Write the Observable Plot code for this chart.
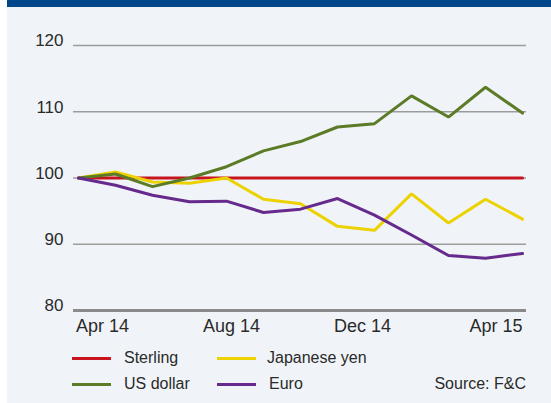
<!DOCTYPE html>
<html>
<head>
<meta charset="utf-8">
<script src="https://cdn.jsdelivr.net/npm/d3@7"></script>
<script src="https://cdn.jsdelivr.net/npm/@observablehq/plot@0.6"></script>
<style>
  html, body { margin: 0; padding: 0; background: #ffffff; }
  #frame {
    position: absolute; left: 7px; top: 0; width: 544px; height: 403px;
    box-sizing: border-box; border-top: 7px solid #00468a; background: #f0f4f8;
    font-family: "Liberation Sans", Arial, sans-serif; color: #2a2a2a;
  }
  #chart { position: absolute; left: 0; top: 0; }
  .leg { position: absolute; font-size: 16px; line-height: 16px; color: #2a2a2a; white-space: nowrap; }
  .sw { position: absolute; height: 3px; width: 39px; }
</style>
</head>
<body>
<div id="frame">
  <div id="chart"></div>
  <div id="legend"></div>
</div>
<script>
const months = ["Apr 14","May 14","Jun 14","Jul 14","Aug 14","Sep 14","Oct 14","Nov 14","Dec 14","Jan 15","Feb 15","Mar 15","Apr 15"];
const sterling = [100,100,100,100,100,100,100,100,100,100,100,100,100];
const japaneseYen = [100,100.9,99.4,99.2,100.0,96.8,96.1,92.7,92.1,97.6,93.2,96.8,93.8];
const usDollar = [100,100.6,98.7,100.0,101.7,104.1,105.5,107.7,108.2,112.4,109.2,113.7,109.8];
const euro = [100,98.9,97.4,96.4,96.5,94.8,95.3,96.9,94.4,91.4,88.3,87.9,88.6];
const seriesNames = ["Sterling","Japanese yen","US dollar","Euro"];
const seriesColors = ["#c8141e","#ecd200","#5b7b26","#66298c"];
const yTicks = [80,90,100,110,120];
const xTickLabels = ["Apr 14","Aug 14","Dec 14","Apr 15"];
const sourceText = "Source: F&C";

const seriesValues = [sterling, japaneseYen, usDollar, euro];
const rows = [];
seriesNames.forEach((name, si) => {
  seriesValues[si].forEach((v, i) => rows.push({series: name, month: months[i], value: v}));
});

const tickStyle = {fontSize: 18, fill: "#2a2a2a", frameAnchor: "bottom", dy: 21.5};

const plot = Plot.plot({
  width: 544,
  height: 343,
  marginLeft: 66,
  marginRight: 25,
  marginTop: 38,
  marginBottom: 40,
  style: {background: "transparent", fontFamily: "'Liberation Sans', Arial, sans-serif", fontSize: "17px", color: "#2a2a2a"},
  x: {type: "point", domain: months, padding: 0, axis: null},
  y: {domain: [80, 120]},
  color: {domain: seriesNames, range: seriesColors},
  marks: [
    Plot.ruleY(yTicks.filter(d => d !== 80), {stroke: "#9c9c9c", strokeWidth: 1.5}),
    Plot.ruleY([80], {stroke: "#8a8a8a", strokeWidth: 3}),
    Plot.axisY(yTicks, {tickSize: 0, tickPadding: 10, fontSize: 17, dy: -4.5, tickFormat: d => d, label: null, fill: "#2a2a2a"}),
    Plot.line(rows, {x: "month", y: "value", z: "series", stroke: "series", strokeWidth: 3, strokeLinejoin: "miter"}),
    Plot.text([xTickLabels[0]], {x: d => d, text: d => d, textAnchor: "start", dx: -2.5, ...tickStyle}),
    Plot.text([xTickLabels[1]], {x: d => d, text: d => d, textAnchor: "middle", dx: 5, ...tickStyle}),
    Plot.text([xTickLabels[2]], {x: d => d, text: d => d, textAnchor: "middle", dx: -12, ...tickStyle}),
    Plot.text([xTickLabels[3]], {x: d => d, text: d => d, textAnchor: "end", ...tickStyle})
  ]
});
document.getElementById("chart").appendChild(plot);

// legend (positions relative to frame content box, which starts 7px below page top)
const legend = document.getElementById("legend");
const legPos = [
  {sx: 64.5, tx: 117, y: 358},
  {sx: 210, tx: 260, y: 358},
  {sx: 64.5, tx: 117, y: 384},
  {sx: 210, tx: 262, y: 384}
];
seriesNames.forEach((name, i) => {
  const p = legPos[i];
  const sw = document.createElement("div");
  sw.className = "sw";
  sw.style.left = p.sx + "px";
  sw.style.top = (p.y - 7 - 1.5) + "px";
  sw.style.background = seriesColors[i];
  legend.appendChild(sw);
  const t = document.createElement("div");
  t.className = "leg";
  t.textContent = name;
  t.style.left = p.tx + "px";
  t.style.top = (p.y - 7 - 8) + "px";
  legend.appendChild(t);
});
const src = document.createElement("div");
src.className = "leg";
src.textContent = sourceText;
src.style.right = "25px";
src.style.top = (384 - 7 - 8) + "px";
legend.appendChild(src);
</script>
</body>
</html>
